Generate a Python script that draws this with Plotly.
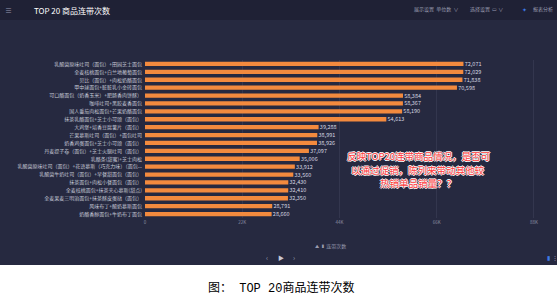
import plotly.graph_objects as go

categories = [
    "乳酸菌原味吐司（面包）+田园芝士面包",
    "全麦核桃面包+白兰地葡萄面包",
    "贝比（面包）+肉松奶酪面包",
    "甲中球面包+脏脏乳小金砖面包",
    "可口酪面包（奶香玉米）+肥肠香肉饼酥）",
    "咖啡吐司+黑胶麦香面包",
    "国人番茄肉松面包+芒果奶酪面包",
    "抹茶乳酪面包+芝士小可颂（面包）",
    "大鸡堡+培香豆腐薯片（面包）",
    "芒果慕斯吐司（面包）+面包吐司",
    "奶香鸡蛋面包+芝士小可颂（面包）",
    "丹麦提子卷（面包）+芝士火腿吐司（面包）",
    "乳酪条(甜蜜)+芝士肉松",
    "乳酸菌原味吐司（面包）+花语慕斯（巧克力味）（面包...",
    "乳酸菌牛奶吐司（面包）+早餐甜面包（面包）",
    "抹茶面包+肉松小餐面包（面包）",
    "全麦核桃面包+抹茶夹心慕斯(甜点)",
    "全麦果麦三明治面包+抹茶酥皮蛋挞（面包）",
    "风味布丁+酸奶慕斯面包",
    "奶酪香醇面包+牛奶布丁面包",
]
values = [72071, 72029, 71838, 70598, 58384, 58367, 58190, 54613, 39288, 38991,
          38926, 37097, 35006, 33912, 33560, 32430, 32410, 32350, 28791, 28660]
tick_values = [0, 22000, 44000, 66000, 88000]
tick_labels = ["0", "22K", "44K", "66K", "88K"]

title_text = "TOP 20 商品连带次数"
caption_text = "图： TOP 20商品连带次数"
note_lines = ["反映TOP20连带商品情况，是否可", "以通过促销，陈列来带动其他较", "热销单品销量？？"]
legend_text = "连带次数"

FW, FH = 557, 301
L, R, T, B = 145, 9, 60, 83
W = FW - L - R
H = FH - T - B


def xp(px):
    return (px - L) / W


def yp(py):
    return 1 - (py - T) / H


PANEL = "#262940"
HEADER = "#1f2135"
ORANGE = "#f38a3e"
CJK = "Noto Sans CJK SC"

fig = go.Figure()
fig.add_trace(go.Bar(
    x=values,
    y=categories,
    orientation="h",
    marker=dict(color=ORANGE, line=dict(width=0)),
    width=0.55,
    text=[" " + f"{v:,}" for v in values],
    textposition="outside",
    textfont=dict(size=5.5, color="#d8d8e0", family=CJK),
    constraintext="none",
    cliponaxis=False,
    hoverinfo="skip",
))

shapes = [
    dict(type="rect", xref="paper", yref="paper", x0=xp(0), x1=xp(FW),
         y0=yp(265), y1=yp(0), fillcolor=PANEL, line=dict(width=0), layer="below"),
    dict(type="rect", xref="paper", yref="paper", x0=xp(0), x1=xp(FW),
         y0=yp(20), y1=yp(0), fillcolor=HEADER, line=dict(width=0), layer="below"),
]

small = dict(family=CJK, size=5, color="#9a9cb0")
annotations = [
    dict(text="≡", x=xp(8), y=yp(10), xref="paper", yref="paper", showarrow=False,
         font=dict(family=CJK, size=7, color="#9a9cb0"), xanchor="center", yanchor="middle"),
    dict(text=title_text, x=xp(32), y=yp(10), xref="paper", yref="paper", showarrow=False,
         font=dict(family=CJK, size=8, color="#ffffff"), xanchor="left", yanchor="middle"),
    dict(text="展示设置  单位数  ∨", x=xp(412), y=yp(9), xref="paper", yref="paper", showarrow=False,
         font=small, xanchor="left", yanchor="middle"),
    dict(text="选择设置  ▭ ∨", x=xp(468), y=yp(9), xref="paper", yref="paper", showarrow=False,
         font=small, xanchor="left", yanchor="middle"),
    dict(text="✦", x=xp(524), y=yp(9), xref="paper", yref="paper", showarrow=False,
         font=dict(family=CJK, size=6, color="#3d7be8"), xanchor="center", yanchor="middle"),
    dict(text="报表分析", x=xp(531), y=yp(9), xref="paper", yref="paper", showarrow=False,
         font=small, xanchor="left", yanchor="middle"),
    dict(text="⛰  ▮ " + legend_text, x=xp(313), y=yp(246), xref="paper", yref="paper", showarrow=False,
         font=small, xanchor="left", yanchor="middle"),
    dict(text="‹", x=xp(267), y=yp(257), xref="paper", yref="paper", showarrow=False,
         font=dict(family=CJK, size=7, color="#9a9cb0"), xanchor="center", yanchor="middle"),
    dict(text="▶", x=xp(281), y=yp(257), xref="paper", yref="paper", showarrow=False,
         font=dict(family=CJK, size=6, color="#c8c8d4"), xanchor="center", yanchor="middle"),
    dict(text="›", x=xp(294), y=yp(257), xref="paper", yref="paper", showarrow=False,
         font=dict(family=CJK, size=7, color="#9a9cb0"), xanchor="center", yanchor="middle"),
    dict(text="▮", x=xp(548), y=yp(257), xref="paper", yref="paper", showarrow=False,
         font=dict(family=CJK, size=6, color="#3d7be8"), xanchor="center", yanchor="middle"),
    dict(text="⋮", x=xp(555), y=yp(257), xref="paper", yref="paper", showarrow=False,
         font=dict(family=CJK, size=6, color="#9a9cb0"), xanchor="center", yanchor="middle"),
    dict(text=caption_text, x=xp(281), y=yp(288), xref="paper", yref="paper", showarrow=False,
         font=dict(family="Liberation Mono, " + CJK, size=12, color="#000000"),
         xanchor="center", yanchor="middle"),
]

note_y = [156, 169.5, 183]
for line, ly in zip(note_lines, note_y):
    annotations.append(dict(
        text=line, x=xp(418), y=yp(ly), xref="paper", yref="paper", showarrow=False,
        xanchor="center", yanchor="middle",
        font=dict(family=CJK, size=9.5, color="#ff3a3a",
                  shadow="1px 0 0 #fff, -1px 0 0 #fff, 0 1px 0 #fff, 0 -1px 0 #fff"),
    ))

fig.update_layout(
    width=FW, height=FH,
    margin=dict(l=L, r=R, t=T, b=B, pad=0),
    paper_bgcolor="#ffffff",
    plot_bgcolor=PANEL,
    showlegend=False,
    shapes=shapes,
    annotations=annotations,
    bargap=0.45,
    xaxis=dict(
        range=[0, 91200],
        tickvals=tick_values,
        ticktext=tick_labels,
        showgrid=True, gridcolor="#33364e", gridwidth=1,
        zeroline=False, showline=False,
        tickfont=dict(family=CJK, size=4.5, color="#8a8ca0"),
        ticks="",
    ),
    yaxis=dict(
        categoryorder="array", categoryarray=categories,
        range=[19.5, -0.5],
        showgrid=False, zeroline=False, showline=False,
        tickfont=dict(family=CJK, size=5, color="#c4c6d4"),
        ticks="", ticklabelstandoff=2,
    ),
    font=dict(family=CJK),
)

fig.write_html("out.html")
